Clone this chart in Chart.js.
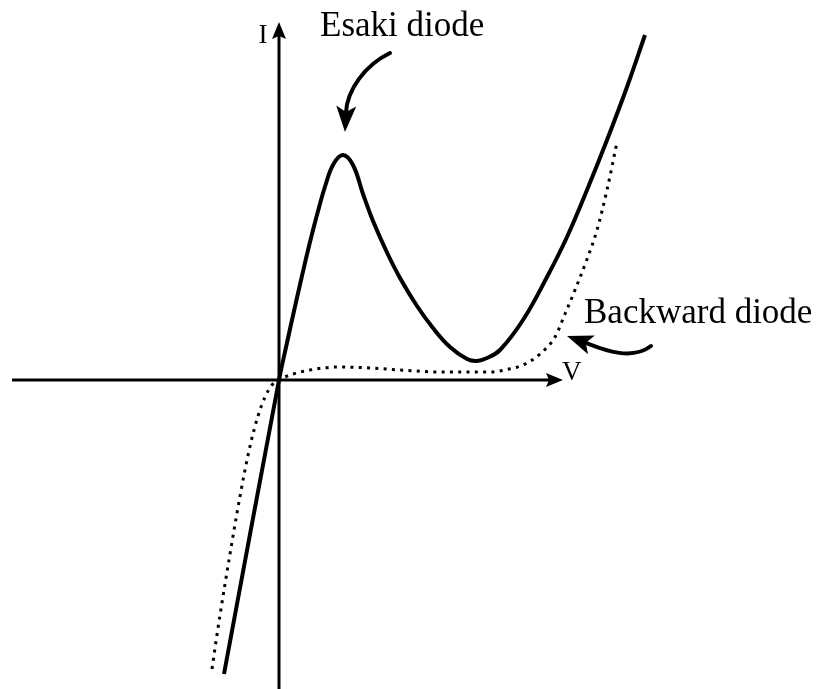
<!DOCTYPE html>
<html>
<head>
<meta charset="utf-8">
<script src="https://cdn.jsdelivr.net/npm/chart.js@4"></script>
<style>
    html, body { margin: 0; padding: 0; background: #fff; }
    #wrap { width: 818px; height: 689px; position: relative; }
</style>
</head>
<body>
<div id="wrap"><canvas id="iv-chart"></canvas></div>
<script>
// voltage / current values (arbitrary units)
const esakiV = [-0.55, 0, 0.075, 0.15, 0.225, 0.305, 0.385, 0.465, 0.545, 0.64, 0.74, 0.84, 0.94, 1.08, 1.21, 1.38, 1.54, 1.71, 1.88, 1.98, 2.08, 2.21, 2.44, 2.68, 2.88, 3.08, 3.28, 3.48, 3.66];
const esakiI = [-2.94, 0, 0.35, 0.69, 1.02, 1.36, 1.67, 1.95, 2.16, 2.25, 2.15, 1.86, 1.59, 1.275, 1.02, 0.74, 0.52, 0.33, 0.21, 0.19, 0.22, 0.30, 0.60, 1.03, 1.43, 1.90, 2.40, 2.93, 3.45];

const backwardV = [-0.67, -0.625, -0.58, -0.54, -0.50, -0.42, -0.35, -0.28, -0.21, -0.14, -0.07, 0, 0.07, 0.14, 0.31, 0.58, 0.91, 1.21, 1.61, 2.11, 2.30, 2.44, 2.61, 2.76, 2.86, 2.96, 3.07, 3.18, 3.28, 3.38];
const backwardI = [-2.89, -2.58, -2.29, -2.04, -1.80, -1.33, -0.95, -0.62, -0.36, -0.17, -0.05, 0, 0.035, 0.06, 0.10, 0.13, 0.12, 0.10, 0.08, 0.08, 0.11, 0.15, 0.26, 0.43, 0.66, 0.90, 1.18, 1.50, 1.90, 2.38];

const vRange = [-2.79, 5.39];
const iRange = [-3.09, 3.80];
const vAxisSpan = [-2.67, 2.84];   // horizontal axis, arrow at the right end
const iAxisSpan = [-3.09, 3.58];   // vertical axis, arrow at the top

const axisLabels = [
    { text: "I", v: -0.16, i: 3.37, size: 27, align: "center" },
    { text: "V", v: 2.83, i: 0.0, size: 27, align: "left" }
];
const notes = [
    { text: "Esaki diode", v: 0.41, i: 3.44 },
    { text: "Backward diode", v: 3.05, i: 0.57 }
];
// cubic pointer curves: start, control 1, control 2, tip
const esakiPointer = [[1.11, 3.27], [0.86, 3.15], [0.68, 2.90], [0.66, 2.48]];
const backwardPointer = [[3.72, 0.34], [3.51, 0.18], [3.21, 0.32], [2.88, 0.44]];

function toPoints(xs, ys) {
    return xs.map(function (x, k) { return { x: x, y: ys[k] }; });
}

function arrowHead(ctx, tx, ty, dx, dy, len, half, notch) {
    const d = Math.hypot(dx, dy);
    const ux = dx / d, uy = dy / d;
    const bx = tx - ux * len, by = ty - uy * len;
    ctx.beginPath();
    ctx.moveTo(tx, ty);
    ctx.lineTo(bx - uy * half, by + ux * half);
    ctx.lineTo(tx - ux * (len - notch), ty - uy * (len - notch));
    ctx.lineTo(bx + uy * half, by - ux * half);
    ctx.closePath();
    ctx.fill();
    return [tx - ux * (len - notch - 1), ty - uy * (len - notch - 1)];
}

const sketchPlugin = {
    id: "sketch",
    beforeDatasetsDraw: function (chart) {
        const ctx = chart.ctx;
        const xs = chart.scales.x, ys = chart.scales.y;
        const x0 = xs.getPixelForValue(0), y0 = ys.getPixelForValue(0);
        ctx.save();
        ctx.strokeStyle = "#000";
        ctx.fillStyle = "#000";
        ctx.lineWidth = 3;
        // horizontal axis
        const hx1 = xs.getPixelForValue(vAxisSpan[1]);
        const hEnd = arrowHead(ctx, hx1, y0, 1, 0, 17, 7, 3);
        ctx.beginPath();
        ctx.moveTo(xs.getPixelForValue(vAxisSpan[0]), y0);
        ctx.lineTo(hEnd[0], hEnd[1]);
        ctx.stroke();
        // vertical axis
        const vy1 = ys.getPixelForValue(iAxisSpan[1]);
        const vEnd = arrowHead(ctx, x0, vy1, 0, -1, 17, 7, 3);
        ctx.beginPath();
        ctx.moveTo(x0, ys.getPixelForValue(iAxisSpan[0]));
        ctx.lineTo(vEnd[0], vEnd[1]);
        ctx.stroke();
        ctx.restore();
    },
    afterDatasetsDraw: function (chart) {
        const ctx = chart.ctx;
        const xs = chart.scales.x, ys = chart.scales.y;
        ctx.save();
        ctx.fillStyle = "#000";
        ctx.strokeStyle = "#000";
        ctx.textBaseline = "alphabetic";
        axisLabels.forEach(function (l) {
            ctx.font = l.size + 'px "Liberation Serif", "Times New Roman", serif';
            ctx.textAlign = l.align;
            ctx.fillText(l.text, xs.getPixelForValue(l.v), ys.getPixelForValue(l.i));
        });
        ctx.font = '35px "Liberation Serif", "Times New Roman", serif';
        ctx.textAlign = "left";
        notes.forEach(function (n) {
            ctx.fillText(n.text, xs.getPixelForValue(n.v), ys.getPixelForValue(n.i));
        });
        [esakiPointer, backwardPointer].forEach(function (p) {
            const px = p.map(function (q) { return [xs.getPixelForValue(q[0]), ys.getPixelForValue(q[1])]; });
            const end = arrowHead(ctx, px[3][0], px[3][1], px[3][0] - px[2][0], px[3][1] - px[2][1], 26, 10, 6);
            ctx.lineWidth = 4;
            ctx.lineCap = "round";
            ctx.beginPath();
            ctx.moveTo(px[0][0], px[0][1]);
            ctx.bezierCurveTo(px[1][0], px[1][1], px[2][0], px[2][1], end[0], end[1]);
            ctx.stroke();
        });
        ctx.restore();
    }
};

new Chart(document.getElementById("iv-chart"), {
    type: "line",
    data: {
        datasets: [
            {
                label: "Esaki diode",
                data: toPoints(esakiV, esakiI),
                borderColor: "#000",
                borderWidth: 4,
                pointRadius: 0,
                tension: 0.4,
                fill: false
            },
            {
                label: "Backward diode",
                data: toPoints(backwardV, backwardI),
                borderColor: "#000",
                borderWidth: 3,
                borderDash: [3, 5.3],
                pointRadius: 0,
                cubicInterpolationMode: "monotone",
                fill: false
            }
        ]
    },
    options: {
        responsive: true,
        maintainAspectRatio: false,
        animation: false,
        layout: { padding: 0 },
        scales: {
            x: { type: "linear", min: vRange[0], max: vRange[1], display: false },
            y: { type: "linear", min: iRange[0], max: iRange[1], display: false }
        },
        plugins: {
            legend: { display: false },
            tooltip: { enabled: false }
        }
    },
    plugins: [sketchPlugin]
});
</script>
</body>
</html>
